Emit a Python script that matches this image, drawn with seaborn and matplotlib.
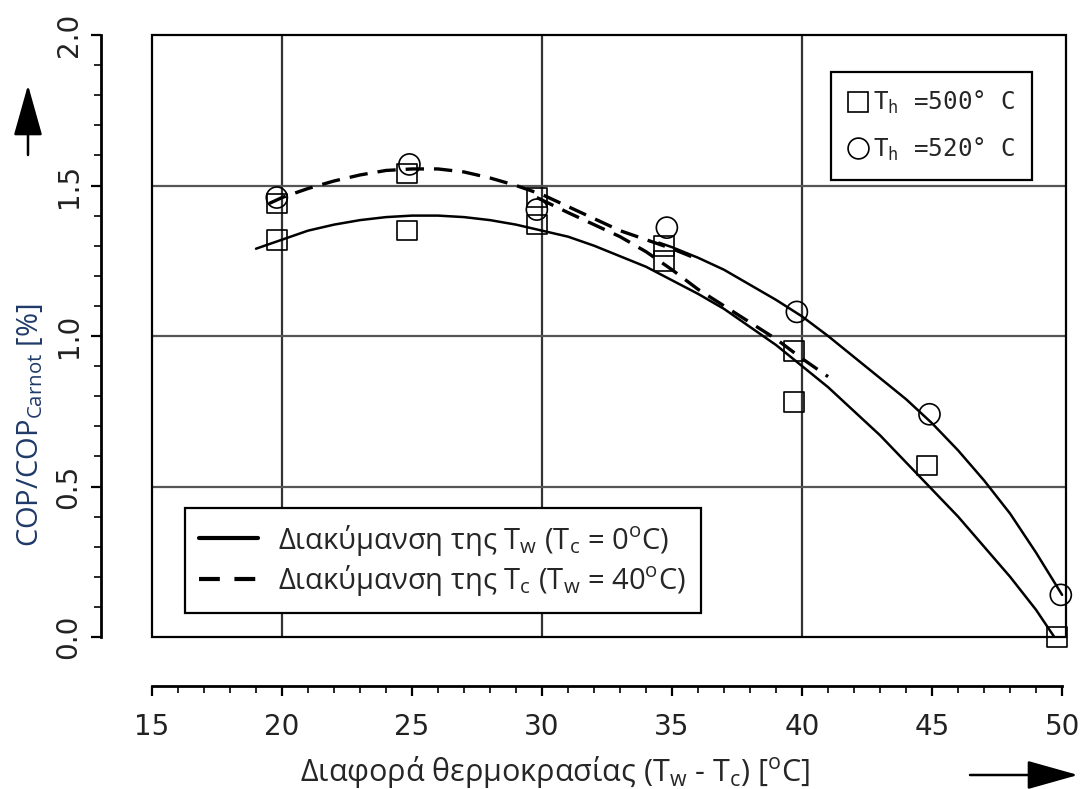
import numpy as np
import pandas as pd
import seaborn as sns
import matplotlib.pyplot as plt
from matplotlib.ticker import MultipleLocator
from matplotlib.lines import Line2D
from matplotlib.patches import Rectangle

# measured points, Th = 500 C (squares) and Th = 520 C (circles)
sq_x = [19.8, 19.8, 24.8, 24.8, 29.8, 29.8, 34.7, 34.7, 39.7, 39.7, 44.8, 49.8]
sq_y = [1.44, 1.32, 1.54, 1.35, 1.46, 1.37, 1.30, 1.25, 0.95, 0.78, 0.57, 0.00]
ci_x = [19.8, 24.9, 29.8, 34.8, 39.8, 44.9, 49.95]
ci_y = [1.46, 1.57, 1.42, 1.36, 1.08, 0.74, 0.14]

# fitted curves, variation of Tw (solid)
tw500_x = [19, 20, 21, 22, 23, 24, 25, 26, 27, 28, 29, 30, 31, 32, 33, 34, 35, 36, 37, 38,
           39, 40, 41, 42, 43, 44, 45, 46, 47, 48, 49, 49.7]
tw500_y = [1.29, 1.32, 1.35, 1.37, 1.385, 1.395, 1.40, 1.40, 1.395, 1.385, 1.37, 1.35, 1.33,
           1.30, 1.265, 1.23, 1.185, 1.14, 1.09, 1.03, 0.97, 0.90, 0.83, 0.75, 0.67, 0.58,
           0.49, 0.40, 0.30, 0.20, 0.09, 0.00]
tw520_x = [34.5, 35, 36, 37, 38, 39, 40, 41, 42, 43, 44, 45, 46, 47, 48, 49, 50]
tw520_y = [1.31, 1.295, 1.26, 1.22, 1.17, 1.12, 1.065, 1.00, 0.93, 0.86, 0.79, 0.71, 0.62,
           0.52, 0.41, 0.28, 0.14]

# fitted curves, variation of Tc (dashed)
tc520_x = [19.5, 20, 21, 22, 23, 24, 25, 26, 27, 28, 29, 30, 31, 32, 33, 34, 35, 36]
tc520_y = [1.44, 1.46, 1.49, 1.515, 1.535, 1.55, 1.555, 1.555, 1.545, 1.525, 1.50, 1.47,
           1.43, 1.39, 1.35, 1.32, 1.29, 1.255]
tc500_x = [29.8, 31, 32, 33, 34, 35, 36, 37, 38, 39, 40, 41]
tc500_y = [1.46, 1.41, 1.37, 1.33, 1.28, 1.22, 1.155, 1.10, 1.045, 0.99, 0.925, 0.865]

grid_x = [20, 30, 40]
grid_y = [0.5, 1.0, 1.5]

line_labels = ["Διακύμανση της T$_\\mathregular{w}$ (T$_\\mathregular{c}$ = 0$^\\mathregular{o}$C)",
               "Διακύμανση της T$_\\mathregular{c}$ (T$_\\mathregular{w}$ = 40$^\\mathregular{o}$C)"]
marker_labels = ["T$_\\mathregular{h}$ =500° C", "T$_\\mathregular{h}$ =520° C"]

sns.set_style("white")
plt.rcParams['font.family'] = ['DejaVu Sans']

fig = plt.figure(figsize=(10.91, 7.89), dpi=100)
ax = fig.add_axes([152/1091, 1-637/789, 914/1091, 602/789])

# curves
for cx, cy in [(tw500_x, tw500_y), (tw520_x, tw520_y)]:
    sns.lineplot(x=cx, y=cy, sort=False, estimator=None, color="black", lw=1.8, ax=ax)
for cx, cy in [(tc520_x, tc520_y), (tc500_x, tc500_y)]:
    sns.lineplot(x=cx, y=cy, sort=False, estimator=None, color="black", lw=2.4,
                 linestyle=(0, (5.5, 3)), ax=ax)

# points
sns.scatterplot(x=sq_x, y=sq_y, marker="s", s=200, facecolor="none", edgecolor="black",
                linewidth=1.2, ax=ax, clip_on=False, zorder=3)
sns.scatterplot(x=ci_x, y=ci_y, marker="o", s=230, facecolor="none", edgecolor="black",
                linewidth=1.2, ax=ax, clip_on=False, zorder=3)

for g in grid_x:
    ax.axvline(g, color="#333333", lw=1.6, zorder=0)
for g in grid_y:
    ax.axhline(g, color="#555555", lw=1.6, zorder=0)

ax.set_xlim(15, 50.15)
ax.set_ylim(0, 2.0)
ax.add_patch(Rectangle((0, 0), 1, 1, transform=ax.transAxes, fill=False, lw=1.6,
                       ec="black", clip_on=False, zorder=4))

for s in ["top", "right"]:
    ax.spines[s].set_visible(False)
ax.spines["left"].set_position(("outward", 37))
ax.spines["bottom"].set_position(("outward", 35))
ax.spines["left"].set_bounds(0, 2.0)
ax.spines["bottom"].set_bounds(15, 50)
for s in ["left", "bottom"]:
    ax.spines[s].set_linewidth(2)
    ax.spines[s].set_color("black")

ax.xaxis.set_major_locator(MultipleLocator(5))
ax.xaxis.set_minor_locator(MultipleLocator(1))
ax.yaxis.set_major_locator(MultipleLocator(0.5))
ax.yaxis.set_minor_locator(MultipleLocator(0.1))
ax.tick_params(axis="both", which="major", direction="out", length=7, width=1.6,
               labelsize=20, colors="black")
ax.tick_params(axis="both", which="minor", direction="out", length=5, width=1.4)
ax.tick_params(axis="x", which="major", pad=13)
ax.tick_params(axis="y", which="major", pad=6)
ax.tick_params(left=True, bottom=True, which="both")
ax.set_yticks([0, 0.5, 1.0, 1.5, 2.0])
ax.set_yticklabels(["0.0", "0.5", "1.0", "1.5", "2.0"], rotation=90, va="center")
for lab in ax.get_xticklabels() + ax.get_yticklabels():
    lab.set_color("#222222")

# legends
h1 = [Line2D([], [], color="black", lw=3),
      Line2D([], [], color="black", lw=3, linestyle=(0, (5, 3.5)))]
leg1 = ax.legend(h1, line_labels, loc="lower left", bbox_to_anchor=(0.036, 0.04),
                 borderaxespad=0, frameon=True, fancybox=False, framealpha=1,
                 edgecolor="black", handlelength=2.0, handletextpad=0.7,
                 labelspacing=0.2, borderpad=0.5,
                 prop={"family": ["Open Sans", "DejaVu Sans"], "size": 21})
leg1.get_frame().set_linewidth(1.6)
ax.add_artist(leg1)

h2 = [Line2D([], [], marker="s", ls="none", mfc="none", mec="black", ms=14, mew=1.2),
      Line2D([], [], marker="o", ls="none", mfc="none", mec="black", ms=15, mew=1.2)]
leg2 = ax.legend(h2, marker_labels, loc="upper right", bbox_to_anchor=(0.963, 0.9385),
                 borderaxespad=0, frameon=True, fancybox=False, framealpha=1,
                 edgecolor="black", handlelength=0.8, handletextpad=0.2,
                 labelspacing=0.8, borderpad=0.7,
                 prop={"family": ["DejaVu Sans Mono"], "size": 17.5})
leg2.get_frame().set_linewidth(1.6)

# axis labels
fig.text(555/1091, 1-772/789, "Διαφορά θερμοκρασίας (T$_\\mathregular{w}$ - T$_\\mathregular{c}$) [$^\\mathregular{o}$C]",
         ha="center", va="center", fontsize=22, family=["Open Sans", "DejaVu Sans"])
fig.text(30/1091, 1-425/789, "COP/COP$_\\mathregular{Carnot}$ [%]", rotation=90,
         ha="center", va="center", fontsize=21, color="#1f3a68",
         family=["Open Sans", "DejaVu Sans"])

# direction arrows
ax.annotate("", xy=(28, 789-85), xytext=(28, 789-155), xycoords="figure pixels",
            textcoords="figure pixels",
            arrowprops=dict(arrowstyle="-|>,head_length=1.6,head_width=0.45", lw=1.8,
                            color="black", mutation_scale=20, shrinkA=0, shrinkB=0))
ax.annotate("", xy=(1078, 789-775), xytext=(970, 789-775), xycoords="figure pixels",
            textcoords="figure pixels",
            arrowprops=dict(arrowstyle="-|>,head_length=1.6,head_width=0.45", lw=1.8,
                            color="black", mutation_scale=20, shrinkA=0, shrinkB=0))

plt.savefig("out.png", dpi=100)
